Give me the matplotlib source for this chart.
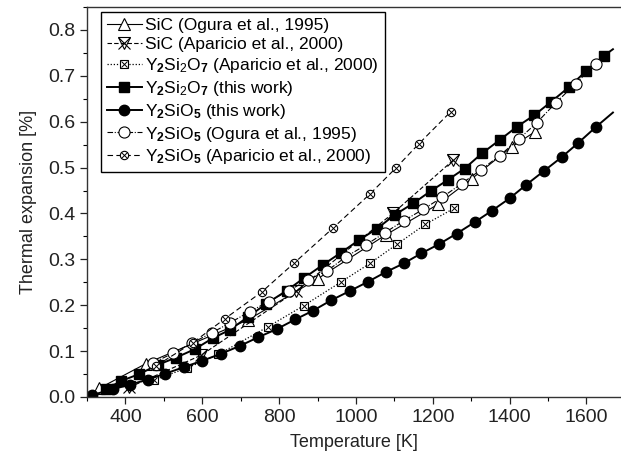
import matplotlib
matplotlib.use("Agg")
import matplotlib.pyplot as plt
from matplotlib.ticker import MultipleLocator

plt.rcParams['font.family'] = ['Liberation Sans', 'DejaVu Sans']
plt.rcParams['mathtext.fontset'] = 'custom'
plt.rcParams['mathtext.rm'] = 'Liberation Sans'
plt.rcParams['mathtext.it'] = 'Liberation Sans'
plt.rcParams['mathtext.bf'] = 'Liberation Sans:bold'

# SiC (Ogura et al., 1995)
sic_ogura_T = [332, 454, 719, 901, 1077, 1214, 1302, 1405, 1466]
sic_ogura_y = [0.019, 0.073, 0.168, 0.258, 0.353, 0.420, 0.476, 0.545, 0.578]

# SiC (Aparicio et al., 2000)
sic_apar_T = [410, 597, 845, 1096, 1253]
sic_apar_y = [0.021, 0.091, 0.231, 0.400, 0.516]

# Y2Si2O7 (Aparicio et al., 2000)
y2si2o7_apar_T = [474, 560, 642, 771, 864, 960, 1036, 1107, 1180, 1255]
y2si2o7_apar_y = [0.037, 0.063, 0.093, 0.153, 0.199, 0.250, 0.291, 0.333, 0.376, 0.411]

# Y2Si2O7 (this work) - last value is the end of the curve (no marker)
y2si2o7_this_T = [350, 389, 436, 484, 532, 580, 627, 671, 720, 766, 820, 866, 914, 960,
                  1008, 1055, 1101, 1149, 1195, 1239, 1283, 1328, 1374, 1419, 1464, 1509,
                  1554, 1600, 1646, 1669]
y2si2o7_this_y = [0.017, 0.035, 0.050, 0.070, 0.086, 0.104, 0.128, 0.146, 0.175, 0.203,
                  0.232, 0.260, 0.288, 0.314, 0.342, 0.367, 0.397, 0.422, 0.449, 0.473,
                  0.498, 0.531, 0.560, 0.589, 0.614, 0.644, 0.675, 0.711, 0.744, 0.758]

# Y2SiO5 (this work) - last value is the end of the curve (no marker)
y2sio5_this_T = [312, 367, 412, 458, 504, 552, 600, 648, 697, 745, 794, 842, 888, 936,
                 984, 1031, 1077, 1124, 1170, 1216, 1262, 1309, 1354, 1400, 1444, 1490,
                 1536, 1579, 1624, 1669]
y2sio5_this_y = [0.004, 0.017, 0.027, 0.038, 0.051, 0.065, 0.079, 0.094, 0.111, 0.130,
                 0.148, 0.169, 0.188, 0.211, 0.231, 0.251, 0.272, 0.291, 0.313, 0.333,
                 0.356, 0.381, 0.406, 0.433, 0.463, 0.493, 0.523, 0.554, 0.588, 0.620]

# Y2SiO5 (Ogura et al., 1995)
y2sio5_ogura_T = [473, 523, 574, 625, 673, 723, 773, 825, 875, 925, 975, 1025, 1075, 1124,
                  1175, 1224, 1275, 1325, 1374, 1424, 1471, 1520, 1572, 1624]
y2sio5_ogura_y = [0.075, 0.095, 0.118, 0.140, 0.162, 0.186, 0.208, 0.232, 0.255, 0.275,
                  0.306, 0.331, 0.358, 0.384, 0.409, 0.435, 0.465, 0.495, 0.526, 0.562,
                  0.598, 0.641, 0.683, 0.725]

# Y2SiO5 (Aparicio et al., 2000)
y2sio5_apar_T = [480, 575, 658, 755, 838, 940, 1036, 1105, 1164, 1247]
y2sio5_apar_y = [0.068, 0.118, 0.170, 0.229, 0.291, 0.368, 0.442, 0.500, 0.552, 0.622]

labels = ['SiC (Ogura et al., 1995)',
          'SiC (Aparicio et al., 2000)',
          r'Y$_\mathbf{2}$Si$_2$O$_\mathbf{7}$ (Aparicio et al., 2000)',
          r'Y$_\mathbf{2}$Si$_2$O$_\mathbf{7}$ (this work)',
          r'Y$_\mathbf{2}$SiO$_\mathbf{5}$ (this work)',
          r'Y$_\mathbf{2}$SiO$_\mathbf{5}$ (Ogura et al., 1995)',
          r'Y$_\mathbf{2}$SiO$_\mathbf{5}$ (Aparicio et al., 2000)']

fig = plt.figure(figsize=(6.21, 4.67), dpi=100)
ax = fig.add_axes([0.1401, 0.1499, 0.8599, 0.8351])

k = 'black'
h1, = ax.plot(sic_ogura_T, sic_ogura_y, '-', color=k, lw=0.8, marker='^', ms=8,
              mfc='white', mec=k, mew=0.8)
h2a, = ax.plot(sic_apar_T, sic_apar_y, color=k, lw=0.8, ls=(0, (4, 2)), marker='v', ms=8,
               mfc='none', mec=k, mew=0.8)
h2b, = ax.plot(sic_apar_T, sic_apar_y, ls='none', marker='x', ms=8, mec=k, mew=0.8)
h3a, = ax.plot(y2si2o7_apar_T, y2si2o7_apar_y, color=k, lw=0.9, ls=(0, (1, 1.5)), marker='s',
               ms=6, mfc='white', mec=k, mew=0.8)
h3b, = ax.plot(y2si2o7_apar_T, y2si2o7_apar_y, ls='none', marker='x', ms=5, mec=k, mew=0.7)
h4, = ax.plot(y2si2o7_this_T, y2si2o7_this_y, '-', color=k, lw=1.4, marker='s', ms=6.5,
              mfc=k, mec=k, markevery=list(range(len(y2si2o7_this_T) - 1)))
h5, = ax.plot(y2sio5_this_T, y2sio5_this_y, '-', color=k, lw=1.4, marker='o', ms=7.5,
              mfc=k, mec=k, markevery=list(range(len(y2sio5_this_T) - 1)))
h6, = ax.plot(y2sio5_ogura_T, y2sio5_ogura_y, color=k, lw=0.8, ls=(0, (5, 1.5, 1, 1.5)),
              marker='o', ms=8, mfc='white', mec=k, mew=0.8)
h7a, = ax.plot(y2sio5_apar_T, y2sio5_apar_y, color=k, lw=0.8, ls=(0, (5, 3)), marker='o',
               ms=6, mfc='white', mec=k, mew=0.8)
h7b, = ax.plot(y2sio5_apar_T, y2sio5_apar_y, ls='none', marker='x', ms=4.5, mec=k, mew=0.7)

ax.set_xlim(300, 1690)
ax.set_ylim(0, 0.85)
ax.xaxis.set_major_locator(MultipleLocator(200))
ax.xaxis.set_minor_locator(MultipleLocator(100))
ax.yaxis.set_major_locator(MultipleLocator(0.1))
ax.yaxis.set_minor_locator(MultipleLocator(0.05))
ax.yaxis.set_major_formatter(plt.FormatStrFormatter('%.1f'))
ax.tick_params(which='major', direction='out', length=5, width=0.9, labelsize=14,
               colors='#222222', top=False, right=False)
ax.tick_params(which='minor', direction='out', length=3, width=0.8, top=False, right=False)
ax.spines['right'].set_visible(False)
for s in ['left', 'bottom', 'top']:
    ax.spines[s].set_linewidth(1.0)
    ax.spines[s].set_color('#333333')

ax.set_xlabel('Temperature [K]', fontsize=13, color='#222222', labelpad=6)
ax.set_ylabel('Thermal expansion [%]', fontsize=13, color='#222222', labelpad=8)

leg = ax.legend([h1, (h2a, h2b), (h3a, h3b), h4, h5, h6, (h7a, h7b)], labels,
                loc='upper left', bbox_to_anchor=(0.026, 0.987), borderaxespad=0,
                fontsize=12.5, handlelength=2.0, handletextpad=0.2, labelspacing=0.22,
                borderpad=0.35, fancybox=False, framealpha=1, edgecolor='black')
leg.get_frame().set_linewidth(1.0)

fig.savefig('out.png', dpi=100)
